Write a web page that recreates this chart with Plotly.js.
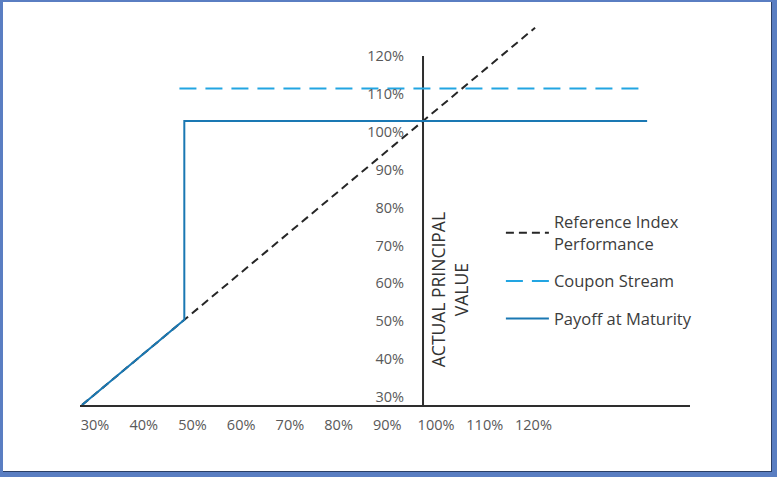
<!DOCTYPE html>
<html>
<head>
<meta charset="utf-8">
<script src="https://cdn.plot.ly/plotly-3.0.1.min.js"></script>
<style>
    body { margin: 0; background: #fff; }
    #wrap { position: relative; width: 777px; height: 477px; }
    #chart { width: 777px; height: 477px; }
    #frame {
        position: absolute; left: 0; top: 0; width: 777px; height: 477px;
        box-sizing: border-box; pointer-events: none;
        border-style: solid; border-color: #5a7ec2;
        border-width: 2px 5px 5px 3px;
        box-shadow: inset -1px -1px 0 #2b3f66;
    }
</style>
</head>
<body>
<div id="wrap">
    <div id="chart"></div>
    <div id="frame"></div>
</div>
<script>
// Chart data (percent of initial level)
const refX = [30, 123];
const refY = [30, 123];
const couponX = [50, 146];
const couponY = [108, 108];
const payoffX = [30, 51, 51, 146];
const payoffY = [30, 51, 100, 100];
const principalX = [100, 100];
const principalY = [30, 116];
const tickValues = [30, 40, 50, 60, 70, 80, 90, 100, 110, 120];
const tickLabels = tickValues.map(v => v + '%');

const FONT = '"Open Sans", Lato, sans-serif';

let reference = {
    x: refX,
    y: refY,
    name: 'Reference Index<br>Performance',
    legendgroup: 'a',
    mode: 'lines',
    line: { color: '#262626', width: 2, dash: '8px,5px' }
};

let coupon = {
    x: couponX,
    y: couponY,
    name: 'Coupon Stream',
    legendgroup: 'b',
    mode: 'lines',
    line: { color: '#22a5e2', width: 2, dash: '17px,9px' }
};

let payoff = {
    x: payoffX,
    y: payoffY,
    name: 'Payoff at Maturity',
    legendgroup: 'c',
    mode: 'lines',
    line: { color: '#1a78b3', width: 2 }
};

let principal = {
    x: principalX,
    y: principalY,
    mode: 'lines',
    showlegend: false,
    hoverinfo: 'skip',
    line: { color: '#2e2e2e', width: 2 }
};

// Carries the label axis only
let labelAxis = {
    x: [100],
    y: [100],
    yaxis: 'y2',
    mode: 'markers',
    marker: { opacity: 0 },
    showlegend: false,
    hoverinfo: 'skip'
};

let data = [principal, reference, coupon, payoff, labelAxis];

let layout = {
    width: 777,
    height: 477,
    paper_bgcolor: '#fff',
    plot_bgcolor: '#fff',
    font: { family: FONT, color: '#555' },
    margin: { l: 80, r: 87, t: 20, b: 72 },
    showlegend: true,
    legend: {
        x: 0.69,
        y: 0.52,
        xanchor: 'left',
        yanchor: 'top',
        traceorder: 'grouped',
        tracegroupgap: 13,
        itemwidth: 43,
        bgcolor: 'rgba(0,0,0,0)',
        font: { family: FONT, size: 16.5, color: '#3c3c3c' }
    },
    xaxis: {
        range: [29.59, 154.8],
        tickvals: tickValues,
        ticktext: tickLabels,
        ticklabelshift: 13,
        ticklabelstandoff: 6,
        tickfont: { size: 14.5, color: '#595959' },
        showline: true,
        linecolor: '#2e2e2e',
        linewidth: 2,
        showgrid: false,
        zeroline: false,
        ticks: ''
    },
    yaxis: {
        range: [30, 124.9],
        showticklabels: false,
        showgrid: false,
        zeroline: false,
        showline: false
    },
    yaxis2: {
        overlaying: 'y',
        anchor: 'free',
        position: 0.5623,
        side: 'left',
        range: [27.9, 129.5],
        tickvals: tickValues,
        ticktext: tickLabels,
        ticklabelstandoff: 19,
        tickfont: { size: 14.5, color: '#595959' },
        showgrid: false,
        zeroline: false,
        showline: false,
        ticks: ''
    },
    annotations: [{
        text: 'ACTUAL PRINCIPAL<br>VALUE',
        x: 100,
        y: 58.3,
        xref: 'x',
        yref: 'y',
        xshift: 26,
        textangle: -90,
        showarrow: false,
        font: { family: FONT, size: 17.5, color: '#333' }
    }]
};

let config = { displayModeBar: false, staticPlot: true };

Plotly.newPlot('chart', data, layout, config);
</script>
</body>
</html>
